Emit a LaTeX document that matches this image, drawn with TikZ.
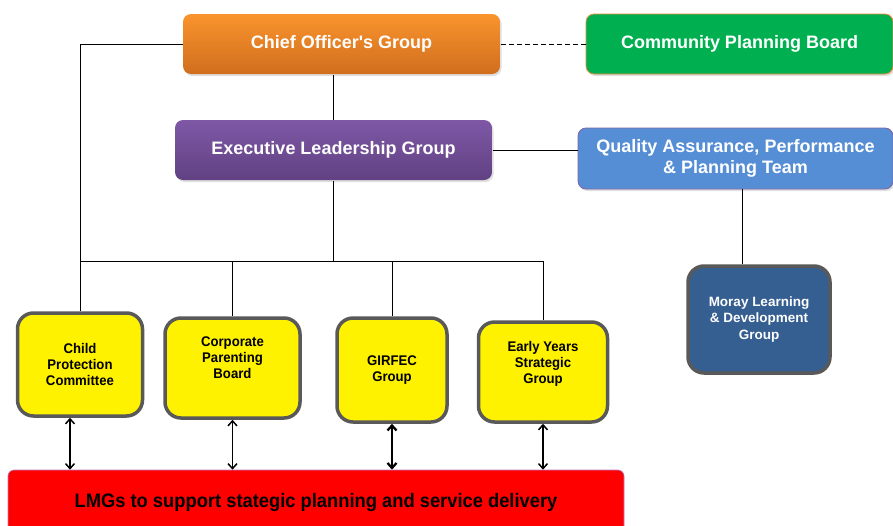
\documentclass[tikz,border=0pt]{standalone}
\usepackage{fontspec}
\setmainfont{Liberation Sans}
\newfontfamily\narrowfont[FakeStretch=0.94]{Liberation Sans}
\usetikzlibrary{arrows.meta,shadows}

\definecolor{cogtop}{RGB}{249,148,45}
\definecolor{cogbot}{RGB}{208,110,30}
\definecolor{elgtop}{RGB}{126,88,166}
\definecolor{elgbot}{RGB}{97,65,130}
\definecolor{cpbgreen}{RGB}{0,176,80}
\definecolor{cpbedge}{RGB}{232,140,60}
\definecolor{qablue}{RGB}{85,142,213}
\definecolor{qaedge}{RGB}{128,100,162}
\definecolor{mldgblue}{RGB}{53,94,145}
\definecolor{boxgrey}{RGB}{89,89,89}
\definecolor{lmgedge}{RGB}{190,120,200}

\begin{document}
\begin{tikzpicture}
[
    x=1pt, y=-1pt,
    line width=1pt,
    >={Straight Barb[length=5pt,width=9pt]},
    topbox/.style={shape=rectangle, rounded corners=8pt, text=white, align=center,
        font=\fontsize{18}{21}\selectfont\bfseries,
        drop shadow={opacity=0.25, shadow xshift=1.5pt, shadow yshift=-2pt}},
    groupbox/.style={shape=rectangle, rounded corners=16pt, draw=boxgrey, line width=3.5pt,
        align=center, font=\fontsize{14}{16}\narrowfont\bfseries},
    link/.style={<->, line width=1.5pt},
]

\useasboundingbox (0,0) rectangle (893,525);

% top tier
\node(cog) at (341.5,44) [topbox, top color=cogtop, bottom color=cogbot,
    minimum width=317pt, minimum height=60pt]{Chief Officer\textquotesingle s Group};
\node(cpb) at (739.5,44) [topbox, fill=cpbgreen, draw=cpbedge, line width=0.8pt,
    minimum width=307pt, minimum height=60pt]{Community Planning Board};
\draw[dash pattern=on 5pt off 3pt] (cog.east) -- (cpb.west);

\node(elg) at (333.5,150) [topbox, top color=elgtop, bottom color=elgbot,
    minimum width=317pt, minimum height=60pt]{Executive Leadership Group};
\node(qapt) at (735.5,158.5) [topbox, fill=qablue, draw=qaedge, line width=0.8pt,
    minimum width=315pt, minimum height=61pt]{Quality Assurance, Performance\\\& Planning Team};
\draw (elg.north) -- (elg.north |- cog.south);
\draw (elg.east) -- (qapt.west |- elg.east);

\node(mldg) at (759,319.5) [groupbox, fill=mldgblue, text=white, font=\fontsize{13.5}{16.5}\selectfont\bfseries,
    minimum width=142pt, minimum height=107pt]{Moray Learning\\\& Development\\Group};
\draw ([xshift=-17pt]mldg.north) -- ([xshift=-17pt]mldg.north |- qapt.south);

% groups under the ELG
\node(cpc) at (80,364.5) [groupbox, fill=yellow, minimum width=125pt, minimum height=103pt]{Child\\Protection\\Committee};
\node(cpbd) at (232.5,368) [groupbox, fill=yellow, minimum width=135pt, minimum height=100pt]{Corporate\\Parenting\\Board\\[4pt]\mbox{}};
\node(girfec) at (392,370) [groupbox, fill=yellow, minimum width=110pt, minimum height=104pt]{GIRFEC\\Group};
\node(eysg) at (543,372) [groupbox, fill=yellow, minimum width=129pt, minimum height=100pt]{Early Years\\Strategic\\Group\\[4pt]\mbox{}};

\coordinate(bus) at (333.5,261);
\draw (elg.south) -- (bus);
\draw (cog.west) -| (cpc.north);
\draw (cpc.north |- bus) -- (eysg.north |- bus);
\draw (cpbd.north |- bus) -- (cpbd.north);
\draw (girfec.north |- bus) -- (girfec.north);
\draw (eysg.north |- bus) -- (eysg.north);

% local management groups
\node(lmg) at (316,502) [shape=rectangle, rounded corners=6pt, fill=red, draw=lmgedge, line width=0.6pt,
    minimum width=616pt, minimum height=64pt, font=\fontsize{19.5}{22}\narrowfont\bfseries]
    {LMGs to support stategic planning and service delivery};

\draw[link] ([xshift=-10pt]cpc.south) -- ([xshift=-10pt]cpc.south |- lmg.north);
\draw[link] (cpbd.south) -- (cpbd.south |- lmg.north);
\draw[link, line width=2.3pt] (girfec.south) -- (girfec.south |- lmg.north);
\draw[link] (eysg.south) -- (eysg.south |- lmg.north);

\end{tikzpicture}
\end{document}
